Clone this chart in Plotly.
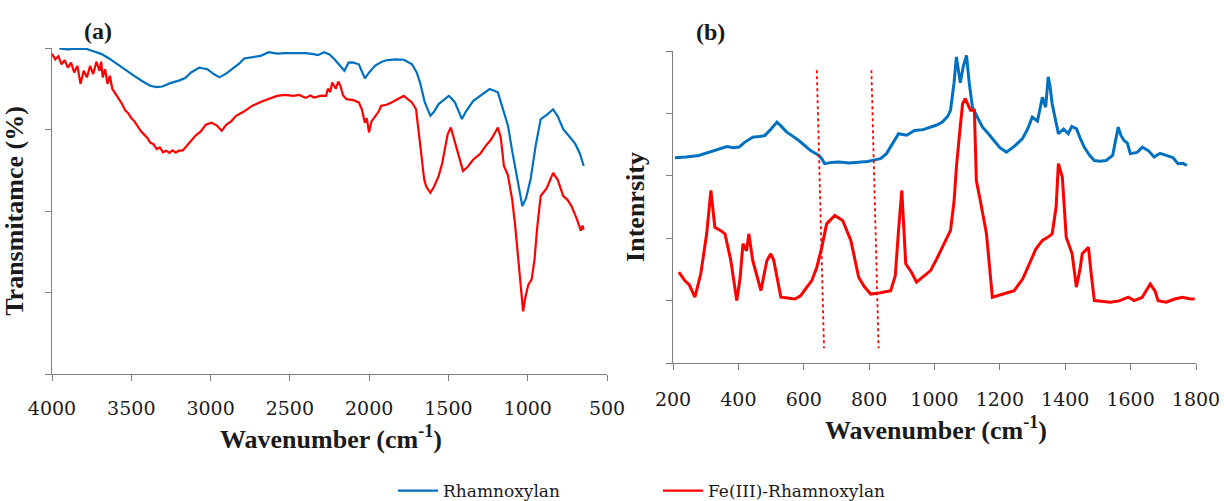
import plotly.graph_objects as go

# ---------------- Panel (a): FTIR ----------------
ftir_blue_x = [3954, 3900, 3850, 3781, 3740, 3690, 3640, 3587, 3540, 3484, 3430, 3381, 3340, 3304, 3250, 3200, 3160, 3123,
               3071, 3020, 2980, 2943, 2900, 2865, 2820, 2788, 2740, 2685, 2633, 2580, 2530, 2470, 2401, 2350, 2323,
               2284, 2250, 2220, 2180, 2156, 2130, 2104, 2065, 2045, 2027, 2000, 1962, 1920, 1885, 1830, 1780, 1730,
               1700, 1679, 1650, 1614, 1590, 1562, 1530, 1498, 1480, 1459, 1415, 1390, 1343, 1290, 1240, 1188, 1160,
               1124, 1100, 1072, 1050, 1034, 1010, 982, 950, 918, 880, 840, 810, 776, 740, 699, 670, 647]
ftir_blue_y = [99.9, 99.6, 99.8, 99.7, 99.0, 98.2, 96.8, 95.0, 93.2, 91.5, 89.8, 88.4, 88.0, 88.2, 89.3, 90.0, 90.8, 92.5,
               94.0, 93.5, 92.0, 91.0, 92.2, 93.5, 95.2, 96.8, 97.2, 97.6, 98.7, 98.3, 98.4, 98.5, 98.4, 98.1, 97.8,
               98.7, 98.0, 96.6, 94.5, 93.0, 95.5, 95.6, 95.0, 92.5, 90.7, 92.5, 94.6, 95.8, 96.3, 96.5, 96.4, 95.0,
               92.5, 89.4, 83.5, 79.2, 80.5, 82.8, 84.0, 85.3, 84.5, 83.3, 78.2, 80.5, 83.8, 85.8, 87.4, 86.4, 82.0,
               76.1, 69.0, 61.7, 55.0, 51.5, 54.0, 59.7, 70.0, 78.2, 79.5, 81.2, 79.0, 75.1, 73.0, 70.5, 67.5, 63.8]

ftir_red_x = [4000, 3980, 3960, 3940, 3920, 3900, 3880, 3860, 3840, 3820, 3800, 3780, 3760, 3740, 3720, 3700, 3690,
              3680, 3665, 3650, 3635, 3620, 3600, 3580, 3560, 3540, 3520, 3500, 3480, 3460, 3440, 3420, 3400, 3380,
              3360, 3340, 3320, 3300, 3280, 3260, 3240, 3220, 3200, 3175, 3150, 3120, 3097, 3060, 3030, 2994, 2960,
              2930, 2900, 2870, 2839, 2790, 2736, 2680, 2620, 2581, 2530, 2478, 2440, 2400, 2370, 2349, 2300, 2272,
              2260, 2245, 2233, 2210, 2195, 2181, 2165, 2143, 2100, 2065, 2045, 2027, 2015, 2001, 1985, 1962, 1940,
              1924, 1890, 1859, 1820, 1782, 1760, 1730, 1704, 1679, 1653, 1640, 1614, 1590, 1562, 1540, 1524, 1505,
              1485, 1465, 1447, 1430, 1408, 1380, 1343, 1300, 1266, 1230, 1200, 1188, 1170, 1150, 1125, 1098, 1080,
              1060, 1045, 1029, 1015, 996, 975, 957, 940, 918, 880, 840, 810, 776, 750, 724, 690, 665, 655, 647]
ftir_red_y = [98.2, 96.5, 97.5, 95.0, 96.3, 94.0, 95.5, 92.5, 94.5, 89.0, 93.0, 91.0, 94.5, 92.0, 95.8, 93.0, 95.8,
              91.0, 93.5, 89.0, 91.5, 87.5, 86.0, 84.5, 83.0, 81.0, 80.0, 78.5, 77.5, 76.0, 74.5, 73.5, 72.5, 71.0,
              70.5, 69.0, 69.5, 68.0, 68.5, 67.8, 68.6, 67.9, 68.5, 68.6, 70.0, 71.5, 73.0, 74.5, 76.5, 77.1, 76.2,
              74.6, 76.5, 77.5, 79.2, 80.5, 82.3, 83.5, 84.5, 85.3, 85.6, 85.3, 85.6, 84.7, 85.4, 84.8, 85.4, 85.3,
              87.5, 86.5, 89.4, 87.5, 89.7, 88.4, 85.5, 84.3, 84.0, 83.3, 81.0, 77.1, 78.5, 74.1, 77.5, 79.2, 80.5,
              82.3, 82.6, 83.3, 84.3, 85.3, 84.5, 83.3, 81.2, 69.9, 59.7, 57.5, 55.6, 57.5, 60.7, 64.5, 68.9, 73.5,
              75.6, 72.0, 68.9, 65.5, 62.3, 63.5, 65.8, 67.5, 69.9, 72.0, 74.5, 75.6, 72.5, 63.8, 61.0, 53.5, 46.0,
              35.1, 26.0, 19.2, 23.5, 27.4, 29.0, 35.1, 45.0, 54.6, 57.0, 61.7, 59.5, 54.6, 53.5, 51.5, 47.5, 44.0,
              45.5, 44.3]

# ---------------- Panel (b): Raman ----------------
raman_blue_x = [206, 240, 279, 305, 328, 345, 365, 385, 402, 420, 444, 465, 481, 500, 518, 530, 548, 565, 585, 605, 621,
                635, 646, 655, 664, 685, 707, 740, 768, 795, 817, 835, 853, 870, 890, 915, 939, 965, 988, 1005, 1024,
                1040, 1049, 1060, 1067, 1073, 1079, 1088, 1098, 1106, 1116, 1130, 1147, 1165, 1183, 1200, 1220, 1245,
                1269, 1285, 1299, 1315, 1330, 1340, 1348, 1353, 1360, 1370, 1379, 1395, 1409, 1420, 1434, 1446, 1458,
                1475, 1489, 1507, 1525, 1545, 1562, 1570, 1580, 1590, 1599, 1620, 1636, 1655, 1672, 1690, 1709, 1730,
                1745, 1760, 1772]
raman_blue_y = [65.8, 66.0, 66.5, 67.4, 68.1, 68.8, 69.4, 69.0, 69.2, 70.8, 72.4, 72.6, 72.9, 75.0, 77.2, 76.0, 74.0,
                72.8, 71.3, 69.5, 68.1, 67.2, 66.5, 65.5, 63.9, 64.3, 64.4, 64.1, 64.4, 64.6, 65.1, 65.5, 67.1, 70.0,
                73.5, 73.0, 74.5, 74.8, 75.6, 76.2, 77.2, 79.0, 81.0, 90.0, 98.1, 94.0, 89.8, 95.0, 98.6, 90.0, 82.0,
                79.0, 75.6, 73.5, 71.3, 69.0, 67.6, 69.5, 71.9, 75.0, 78.8, 77.5, 85.2, 82.0, 91.7, 89.0, 83.1, 78.0,
                73.5, 75.0, 73.5, 75.8, 75.1, 72.0, 69.2, 66.5, 64.9, 64.7, 64.9, 66.5, 75.6, 73.0, 71.3, 70.5, 67.1,
                67.5, 69.2, 68.0, 66.0, 67.2, 66.5, 65.8, 63.9, 64.0, 63.3]

raman_red_x = [218, 236, 250, 267, 285, 303, 316, 328, 345, 359, 377, 395, 405, 414, 425, 432, 444, 457, 469, 487, 499,
               508, 518, 530, 550, 573, 590, 609, 625, 640, 655, 670, 695, 719, 744, 768, 785, 805, 835, 866, 880, 890,
               900, 912, 930, 945, 965, 988, 1005, 1024, 1049, 1060, 1067, 1078, 1086, 1094, 1110, 1122, 1128, 1140,
               1159, 1177, 1195, 1220, 1244, 1270, 1293, 1310, 1330, 1345, 1360, 1372, 1379, 1391, 1403, 1421, 1434,
               1445, 1452, 1471, 1480, 1489, 1510, 1538, 1565, 1593, 1611, 1635, 1660, 1675, 1684, 1709, 1735, 1758,
               1780, 1796]
raman_red_y = [29.1, 26.4, 25.0, 21.1, 28.6, 41.4, 55.3, 43.5, 42.5, 41.4, 32.8, 20.0, 27.0, 38.2, 36.0, 41.4, 32.8,
               28.0, 23.2, 32.8, 35.0, 33.0, 27.5, 21.1, 20.8, 20.5, 21.5, 24.3, 26.5, 30.7, 37.0, 44.6, 47.3, 45.7,
               39.3, 27.5, 24.5, 22.1, 22.5, 23.2, 28.0, 42.5, 55.3, 31.8, 29.0, 25.9, 27.5, 29.6, 33.0, 37.1, 42.5,
               52.0, 62.8, 75.0, 83.1, 84.7, 81.0, 81.0, 58.5, 52.1, 41.4, 21.1, 21.7, 22.5, 23.2, 27.0, 32.8, 36.5,
               39.3, 40.2, 41.4, 50.0, 63.9, 59.6, 40.3, 35.0, 24.3, 30.0, 35.0, 37.1, 28.0, 20.0, 19.8, 19.5, 19.9,
               21.1, 20.0, 21.0, 25.3, 23.0, 20.0, 19.5, 20.5, 21.1, 20.6, 20.5]

# dotted guide lines in panel (b)
guide1_x = [640, 662]
guide2_x = [807, 829]
guide_y = [93.8, 4.7]

x_ticks_a = [4000, 3500, 3000, 2500, 2000, 1500, 1000, 500]
x_ticks_b = [200, 400, 600, 800, 1000, 1200, 1400, 1600, 1800]

BLUE = "#0070C0"
RED = "#FF0000"
FONT = "Liberation Serif"      # bold titles
REG = "DejaVu Serif"           # regular serif text (ticks, legend)
W, H = 1224, 501

fig = go.Figure()
fig.add_trace(go.Scatter(x=ftir_blue_x, y=ftir_blue_y, mode="lines", name="Rhamnoxylan",
                         line=dict(color=BLUE, width=2.2), xaxis="x", yaxis="y", legendrank=1))
fig.add_trace(go.Scatter(x=ftir_red_x, y=ftir_red_y, mode="lines", name="Fe(III)-Rhamnoxylan",
                         line=dict(color=RED, width=2.2), xaxis="x", yaxis="y", legendrank=2))
fig.add_trace(go.Scatter(x=raman_blue_x, y=raman_blue_y, mode="lines", showlegend=False,
                         line=dict(color=BLUE, width=3), xaxis="x2", yaxis="y2"))
fig.add_trace(go.Scatter(x=raman_red_x, y=raman_red_y, mode="lines", showlegend=False,
                         line=dict(color=RED, width=3), xaxis="x2", yaxis="y2"))
for gx in (guide1_x, guide2_x):
    fig.add_trace(go.Scatter(x=gx, y=guide_y, mode="lines", showlegend=False,
                             line=dict(color=RED, width=1.8, dash="dot"), xaxis="x2", yaxis="y2"))

axis_common = dict(showline=True, linecolor="#7f7f7f", linewidth=1, ticks="outside", ticklen=6,
                   tickcolor="#7f7f7f", showgrid=False, zeroline=False, automargin=False,
                   ticklabeloverflow="allow")

TICK = 19
XT = 26
YT = 26
TXT = "#1a1a1a"

fig.update_layout(
    width=W, height=H,
    margin=dict(l=0, r=0, t=0, b=0, autoexpand=False),
    paper_bgcolor="white", plot_bgcolor="white",
    font=dict(family=FONT, color=TXT),
    xaxis=dict(domain=[52 / W, 607 / W], range=[4000, 500], tickvals=x_ticks_a, anchor="y",
               ticklabelstandoff=11,
               tickfont=dict(size=TICK, family=REG, color=TXT), **axis_common),
    yaxis=dict(domain=[1 - 374 / H, 1 - 48 / H], range=[0, 100], tickvals=[0, 25, 50, 75, 100], showticklabels=False,
               anchor="x", title=dict(text="<b>Transmitamce (%)</b>", font=dict(size=YT, family=FONT, color=TXT), standoff=13),
               **axis_common),
    xaxis2=dict(domain=[673 / W, 1196 / W], range=[200, 1800], tickvals=x_ticks_b, anchor="y2",
                ticklabelstandoff=13,
                tickfont=dict(size=TICK, family=REG, color=TXT), **axis_common),
    yaxis2=dict(domain=[1 - 363 / H, 1 - 51 / H], range=[0, 100], tickvals=[0, 20, 40, 60, 80, 100], showticklabels=False,
                anchor="x2", title=dict(text="<b>Intenrsity</b>", font=dict(size=YT, family=FONT, color=TXT), standoff=13),
                **axis_common),
    legend=dict(orientation="h", x=393 / W, xanchor="left", y=1 - 491 / H, yanchor="middle",
                font=dict(size=17, family=REG, color=TXT), entrywidth=210, itemwidth=40, bgcolor="rgba(0,0,0,0)"),
    annotations=[
        dict(text="<b>(a)</b>", x=98 / W, y=1 - 31 / H, xref="paper", yref="paper", showarrow=False,
             xanchor="center", yanchor="middle", font=dict(size=24, family=FONT, color=TXT)),
        dict(text="<b>(b)</b>", x=710 / W, y=1 - 32 / H, xref="paper", yref="paper", showarrow=False,
             xanchor="center", yanchor="middle", font=dict(size=24, family=FONT, color=TXT)),
        dict(text="<b>Wavenumber (cm<sup>-1</sup>)</b>", x=331 / W, y=1 - 437 / H, xref="paper", yref="paper",
             showarrow=False, xanchor="center", yanchor="middle", font=dict(size=XT, family=FONT, color=TXT)),
        dict(text="<b>Wavenumber (cm<sup>-1</sup>)</b>", x=936 / W, y=1 - 428 / H, xref="paper", yref="paper",
             showarrow=False, xanchor="center", yanchor="middle", font=dict(size=XT, family=FONT, color=TXT)),
    ],
)

# remove the browser's default 8px body margin so the figure sits at the page origin; hide the modebar
fig.write_html("out.html", config={"displayModeBar": False},
               post_script="document.body.style.margin='0';document.body.style.overflow='hidden';")
